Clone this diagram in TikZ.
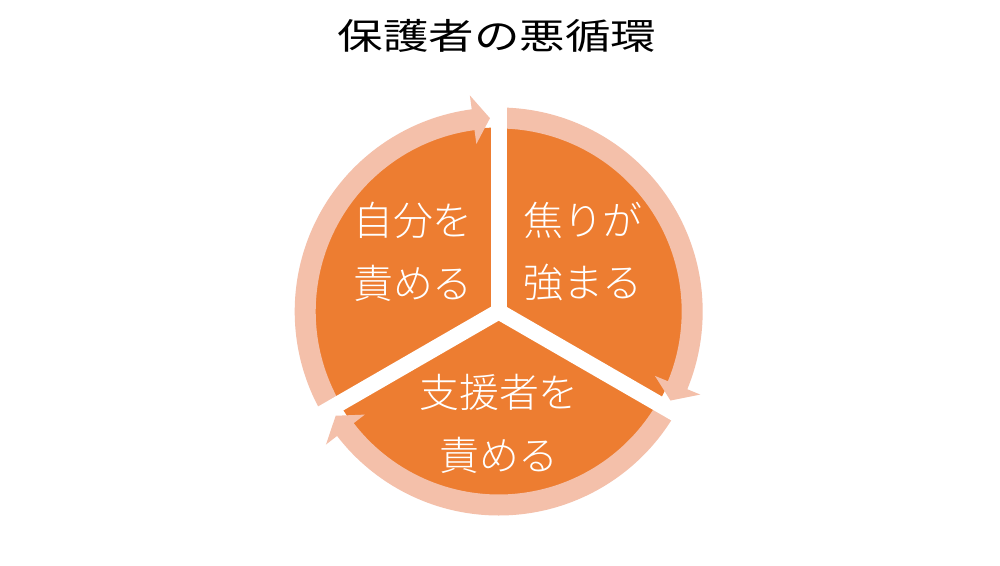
\documentclass[tikz,border=0pt]{standalone}
\usepackage{fontspec}
\newfontfamily\cjk{Noto Sans CJK JP}
\IfFontExistsTF{Noto Sans CJK JP Light}{\newfontfamily\cjkl{Noto Sans CJK JP Light}}{\newfontfamily\cjkl{Noto Sans CJK JP}}
\definecolor{pieorange}{RGB}{237,125,49}
\definecolor{ringpink}{RGB}{244,192,170}
\begin{document}
\begin{tikzpicture}[x=0.02cm,y=0.02cm,
  lbl/.style={text=white,font=\cjkl\fontsize{22.7}{35.7}\selectfont,align=center,inner sep=0pt},
  ttl/.style={text=black,font=\cjk\fontsize{20.4}{24}\selectfont,inner sep=0pt,xscale=1.27,transform shape},
  ringarrow/.style={fill=ringpink},
  gapband/.style={draw=white,line width=0.32cm}]
\useasboundingbox (0,0) rectangle (1000,565);
\fill[white] (0,0) rectangle (1000,565);
\coordinate (C) at (498.7,253.5);
\fill[pieorange] (C) circle[radius=184];
\begin{scope}[shift={(C)}]
\foreach \g in {90,210,330}{
  \pgfmathsetmacro\aS{\g-1}
  \pgfmathsetmacro\aT{\g-117.4}
  \pgfmathsetmacro\aB{\g-112.4}
  \fill[ringarrow] (\aS:204) arc[start angle=\aS, end angle=\aB, radius=204]
     -- (\aB:218) -- (\aT:193.5) -- (\aB:169) -- (\aB:183)
     arc[start angle=\aB, end angle=\aS, radius=183] -- cycle;
}
\foreach \g in {90,210,330}{
  \draw[gapband] (0,0) -- (\g:235);
}
\end{scope}
\node[lbl] (t1) at (413,313.5) {自分を\\責める};
\node[lbl] (t2) at (583,313.5) {焦りが\\強まる};
\node[lbl] (t3) at (499,141) {支援者を\\責める};
\node[ttl] (title) at (497,529) {保護者の悪循環};
\end{tikzpicture}
\end{document}
